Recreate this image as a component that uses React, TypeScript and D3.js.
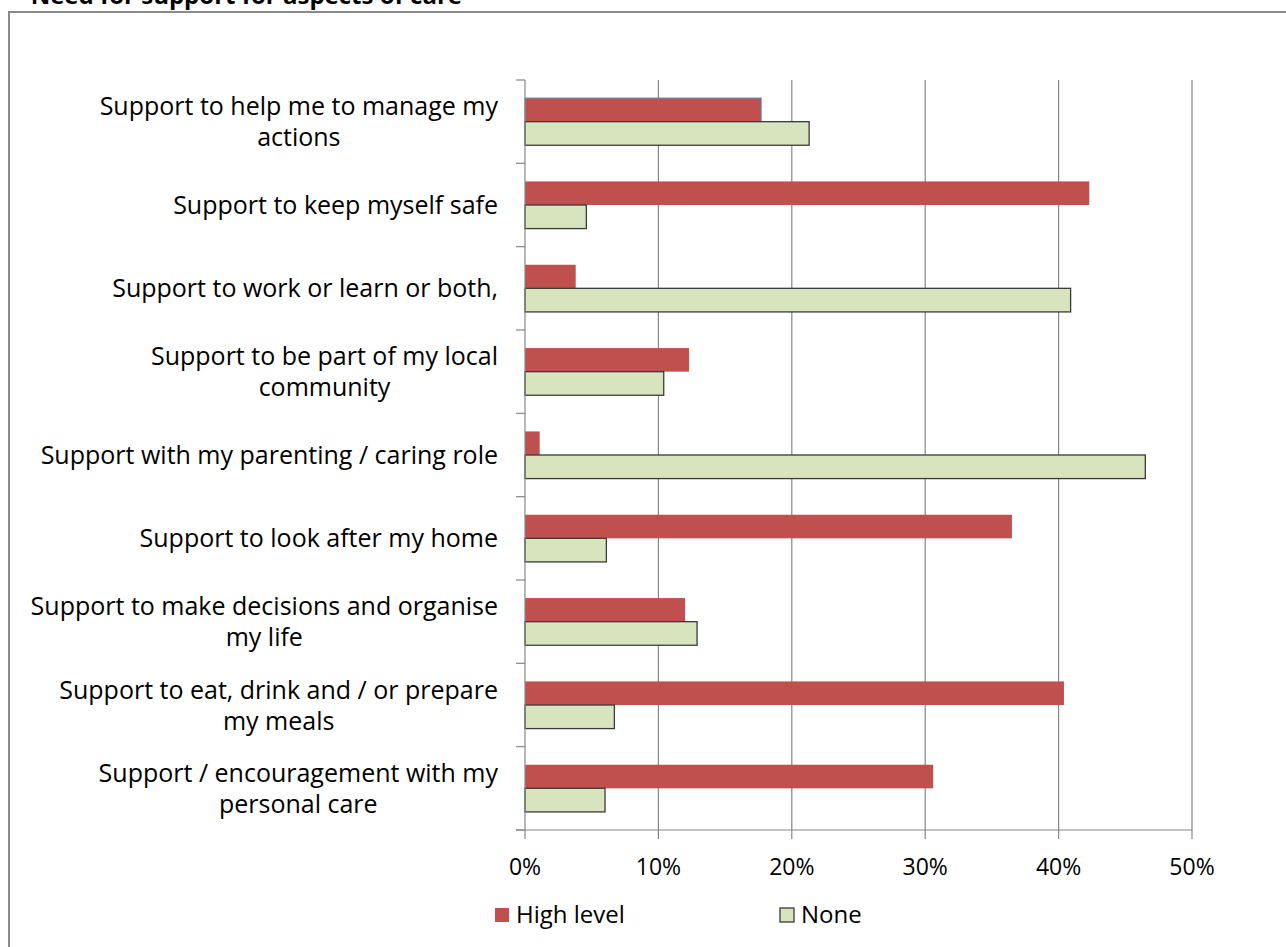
import React, { useEffect, useRef } from "react";
import * as d3 from "d3";

const categories: string[][] = [
  ["Support to help me to manage my", "actions"],
  ["Support to keep myself safe"],
  ["Support to work or learn or both,"],
  ["Support to be part of my local", "community"],
  ["Support with my parenting / caring role"],
  ["Support to look after my home"],
  ["Support to make decisions and organise", "my life"],
  ["Support to eat, drink and / or prepare", "my meals"],
  ["Support / encouragement with my", "personal care"],
];
const highLevel = [17.7, 42.3, 3.8, 12.3, 1.1, 36.5, 12.0, 40.4, 30.6];
const none = [21.3, 4.6, 40.9, 10.4, 46.5, 6.1, 12.9, 6.7, 6.0];
const xTicks = [0, 10, 20, 30, 40, 50];
const seriesNames = ["High level", "None"];

const W = 1286;
const H = 947;
const FONT = "'Open Sans', Lato, sans-serif";

export default function App() {
  const ref = useRef<SVGSVGElement>(null);
  useEffect(() => {
    const svg = d3.select(ref.current);
    svg.selectAll("*").remove();

    const x0 = 525, x1 = 1192, y0 = 80, y1 = 830;
    const x = d3.scaleLinear().domain([0, 50]).range([x0, x1]);
    const y = d3.scaleBand<number>().domain(d3.range(categories.length)).range([y0, y1]).paddingInner(0).paddingOuter(0);
    const bw = y.bandwidth();
    const barH = bw * 0.283;
    const gap = (bw - 2 * barH) / 2;

    svg.append("rect").attr("width", W).attr("height", H).attr("fill", "#fff");

    // title (cropped at the top edge, as in the reference)
    svg.append("text").attr("x", 462).attr("y", 4).attr("text-anchor", "end")
      .attr("font-family", FONT).attr("font-weight", "bold").attr("font-size", 24)
      .attr("fill", "#000").text("Need for support for aspects of care");

    // border
    svg.append("rect").attr("x", 9).attr("y", 12).attr("width", W + 20).attr("height", H + 20)
      .attr("fill", "none").attr("stroke", "#8a8a8a").attr("stroke-width", 2);

    // gridlines
    svg.append("g").selectAll("line").data(xTicks.slice(1)).join("line")
      .attr("x1", d => x(d)).attr("x2", d => x(d)).attr("y1", y0).attr("y2", y1)
      .attr("stroke", "#868686").attr("stroke-width", 1.2);

    // bars
    const g = svg.append("g");
    g.selectAll("rect.hi").data(highLevel).join("rect").attr("class", "hi")
      .attr("x", x(0)).attr("y", (_, i) => (y(i) as number) + gap)
      .attr("width", d => x(d) - x(0)).attr("height", barH)
      .attr("fill", "#C0504D")
      .attr("stroke", (_, i) => (i === 0 ? "#4F81BD" : "none")).attr("stroke-width", 1);
    g.selectAll("rect.no").data(none).join("rect").attr("class", "no")
      .attr("x", x(0)).attr("y", (_, i) => (y(i) as number) + gap + barH)
      .attr("width", d => x(d) - x(0)).attr("height", barH)
      .attr("fill", "#D7E4BD").attr("stroke", "#3a3a3a").attr("stroke-width", 1.3);

    // axes
    const axisColor = "#868686";
    svg.append("line").attr("x1", x0).attr("x2", x0).attr("y1", y0).attr("y2", y1).attr("stroke", axisColor).attr("stroke-width", 1.2);
    svg.append("line").attr("x1", x0 - 9).attr("x2", x1).attr("y1", y1).attr("y2", y1).attr("stroke", axisColor).attr("stroke-width", 1.2);
    const bounds = d3.range(categories.length + 1).map(i => y0 + i * bw);
    svg.append("g").selectAll("line").data(bounds).join("line")
      .attr("x1", x0 - 9).attr("x2", x0).attr("y1", d => d).attr("y2", d => d)
      .attr("stroke", axisColor).attr("stroke-width", 1.2);
    svg.append("g").selectAll("line").data(xTicks).join("line")
      .attr("x1", d => x(d)).attr("x2", d => x(d)).attr("y1", y1).attr("y2", y1 + 9)
      .attr("stroke", axisColor).attr("stroke-width", 1.2);

    // x tick labels
    svg.append("g").selectAll("text").data(xTicks).join("text")
      .attr("x", d => x(d)).attr("y", 875).attr("text-anchor", "middle")
      .attr("font-family", FONT).attr("font-size", 23).attr("fill", "#000")
      .text(d => `${d}%`);

    // category labels
    const labelRight = 498;
    const lineH = 31;
    categories.forEach((lines, i) => {
      const cy = (y(i) as number) + bw / 2;
      const grp = svg.append("g");
      const texts = lines.map((ln, j) =>
        grp.append("text").attr("font-family", FONT).attr("font-size", 25).attr("fill", "#000")
          .attr("text-anchor", "middle")
          .attr("y", cy + (j - (lines.length - 1) / 2) * lineH + 9)
          .text(ln)
      );
      const maxW = d3.max(texts, t => (t.node() as SVGTextElement).getComputedTextLength()) || 0;
      texts.forEach(t => t.attr("x", labelRight - maxW / 2));
    });

    // legend
    const legY = 915;
    const leg = [
      { x: 495, color: "#C0504D", stroke: "none" },
      { x: 780, color: "#D7E4BD", stroke: "#3a3a3a" },
    ];
    leg.forEach((l, i) => {
      svg.append("rect").attr("x", l.x).attr("y", legY - 7).attr("width", 14).attr("height", 14)
        .attr("fill", l.color).attr("stroke", l.stroke).attr("stroke-width", 1.3);
      svg.append("text").attr("x", l.x + 21).attr("y", legY + 8)
        .attr("font-family", FONT).attr("font-size", 24).attr("fill", "#000").text(seriesNames[i]);
    });
  }, []);

  return (
    <svg ref={ref} width={W} height={H} style={{ position: "absolute", left: 0, top: 0 }} />
  );
}
